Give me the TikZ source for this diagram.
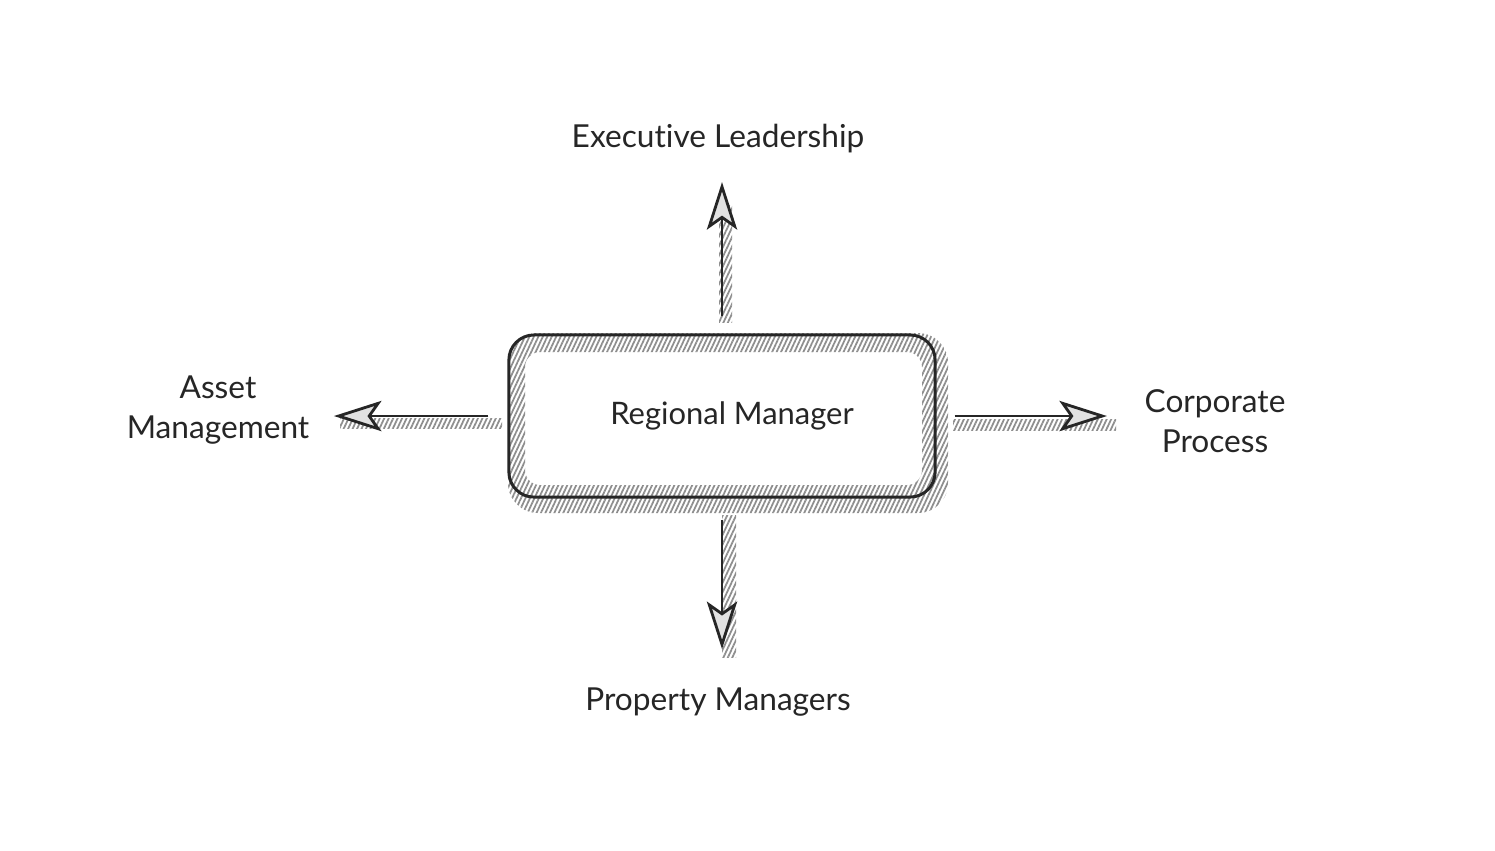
\documentclass[tikz,border=0pt]{standalone}
\usepackage{fontspec}
\setmainfont{Lato}[Ligatures={NoCommon}]
\usetikzlibrary{arrows.meta,patterns.meta,calc}
\definecolor{ink}{HTML}{262626}
\definecolor{hatch}{HTML}{8E8E8E}
\definecolor{headfill}{HTML}{E2E2E2}
\begin{document}
\begin{tikzpicture}[x=0.01cm,y=-0.01cm,
  lbl/.style={font=\fontsize{9}{11.2}\selectfont, text=ink, inner sep=0pt, align=center},
  hatchfill/.style={pattern={Lines[angle=65,distance=1.15pt,line width=0.5pt]}, pattern color=hatch},
  conn/.style={draw=ink, line width=0.75pt, -{Stealth[length=13.5pt,width=8.6pt,inset=3pt,line width=0.8pt,fill=headfill]}},
  mainbox/.style={draw=ink, line width=0.85pt, rounded corners=0.25cm, minimum width=4.26cm, minimum height=1.62cm, inner sep=0pt, font=\fontsize{8.8}{11}\selectfont, text=ink}]
\fill[white] (0,0) rectangle (1495,850);
\useasboundingbox (0,0) rectangle (1495,850);
% hatched shadows
\fill[hatchfill, even odd rule] [rounded corners=0.3cm] (508,333) rectangle (948,513) [rounded corners=0.15cm] (525,352) rectangle (922,485);
\fill[hatchfill] (719,205) rectangle (732,322);
\fill[hatchfill] (722,515) rectangle (736,657);
\fill[hatchfill] (340,418) rectangle (502,428);
\fill[hatchfill] (953,419) rectangle (1116,430);
% nodes
\node[mainbox] (rm) at (722,416) {\hspace*{0.2cm}Regional Manager};
\node[lbl] (exec) at (718,139) {Executive Leadership};
\node[lbl] (pm) at (718,702) {Property Managers};
\node[lbl] (am) at (218,410) {Asset\\Management};
\node[lbl] (cp) at (1215,421) {Corporate\\Process};
% connectors
\draw[conn, shorten <=0.17cm, shorten >=0.28cm] (rm.north) -- (rm.north |- exec.south);
\draw[conn, shorten <=0.21cm, shorten >=0.38cm] (rm.south) -- (rm.south |- pm.north);
\draw[conn, shorten <=0.19cm, shorten >=0.24cm] (rm.west) -- (rm.west -| am.east);
\draw[conn, shorten <=0.18cm, shorten >=0.37cm] (rm.east) -- (rm.east -| cp.west);
\end{tikzpicture}
\end{document}
